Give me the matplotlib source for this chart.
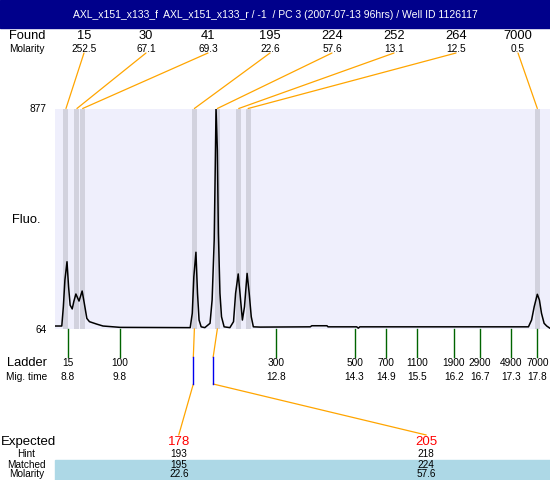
import matplotlib
matplotlib.use("Agg")
import matplotlib.pyplot as plt
from matplotlib.lines import Line2D
from matplotlib.patches import Rectangle, ConnectionPatch
from matplotlib.transforms import blended_transform_factory

plt.rcParams['font.family'] = ['Liberation Sans', 'DejaVu Sans']

title = "AXL_x151_x133_f  AXL_x151_x133_r / -1  / PC 3 (2007-07-13 96hrs) / Well ID 1126117"

# electropherogram: migration time (s) vs fluorescence
trace_time = [8.56, 8.69, 8.72, 8.75, 8.79, 8.82, 8.85, 8.89, 8.92, 8.96,
              9.02, 9.08, 9.12, 9.17, 9.22, 9.36, 9.48, 9.81, 11.15, 11.19,
              11.22, 11.26, 11.29, 11.32, 11.36, 11.43, 11.53, 11.57, 11.61, 11.63,
              11.645, 11.67, 11.69, 11.72, 11.75, 11.80, 11.91, 11.98, 12.02, 12.07,
              12.11, 12.15, 12.19, 12.24, 12.28, 12.32, 12.36, 12.49, 13.45, 13.48,
              13.77, 13.79, 14.34, 14.37, 14.40, 17.63, 17.69, 17.74, 17.80, 17.84,
              17.88, 17.93, 17.98, 18.04]
trace_fluo = [75, 75, 146, 245, 312, 220, 152, 138, 165, 193,
              167, 204, 160, 103, 91, 82, 75, 70, 69, 122,
              257, 347, 196, 97, 72, 69, 85, 171, 392, 662,
              877, 724, 417, 196, 109, 72, 69, 91, 196, 267,
              183, 97, 146, 269, 196, 109, 72, 71, 72, 76,
              76, 72, 72, 67, 72, 72, 97, 146, 192, 171,
              122, 85, 75, 67]

found_size = [15, 30, 41, 195, 224, 252, 264, 7000]
found_molarity = [252.5, 67.1, 69.3, 22.6, 57.6, 13.1, 12.5, 0.5]
found_time = [8.77, 8.98, 9.09, 11.23, 11.67, 12.08, 12.26, 17.80]

ladder_size = [15, 100, 300, 500, 700, 1100, 1900, 2900, 4900, 7000]
ladder_time = [8.8, 9.8, 12.8, 14.3, 14.9, 15.5, 16.2, 16.7, 17.3, 17.8]

expected_size = [178, 205]
hint_size = [193, 218]
matched_size = [195, 224]
matched_molarity = [22.6, 57.6]
matched_time = [11.23, 11.67]
hint_time = [11.21, 11.59]

W, H = 550, 480
fx = lambda px: px / W
fy = lambda py: 1 - py / H

fig = plt.figure(figsize=(W / 100, H / 100), dpi=100)
fig.patch.set_facecolor('white')

# title bar
fig.add_artist(Rectangle((0, fy(28)), 1, 28 / H, transform=fig.transFigure,
                         color='#00008B', zorder=0))
fig.text(0.5, fy(14.5), title, color='white', ha='center', va='center', size=7.5)

# main plot area
ax = fig.add_axes([fx(55), fy(329), fx(495), 220.5 / H])
ax.set_facecolor('#EFEFFC')
for s in ax.spines.values():
    s.set_visible(False)
for t in found_time:
    ax.axvspan(t - 0.048, t + 0.048, color='#D2D2DE', lw=0)
ax.plot(trace_time, trace_fluo, color='black', lw=1.1)
ax.set_xlim(8.56, 18.043)
ax.set_ylim(64, 877)
ax.set_xticks([])
ax.set_yticks([64, 877])
ax.tick_params(axis='y', length=0, pad=6, labelsize=7.3)

trans = blended_transform_factory(ax.transData, fig.transFigure)
orange = '#FFA500'

# found peaks row
fig.text(fx(26.7), fy(36), "Found", ha='center', va='center', size=9.3)
fig.text(fx(26.7), fy(48.5), "Molarity", ha='center', va='center', size=7.3)
for i, (sz, mol, t) in enumerate(zip(found_size, found_molarity, found_time)):
    x = fx(53 + 62 * (i + 0.5))
    fig.text(x, fy(36), str(sz), ha='center', va='center', size=9.3)
    fig.text(x, fy(48.5), f"{mol}", ha='center', va='center', size=7.3)
    fig.add_artist(ConnectionPatch(xyA=(x, fy(53)), coordsA=fig.transFigure,
                                   xyB=(t, 877), coordsB=ax.transData,
                                   color=orange, lw=0.9))

fig.text(fx(26.5), fy(220), "Fluo.", ha='center', va='center', size=9.3)

# ladder
fig.text(fx(27), fy(363), "Ladder", ha='center', va='center', size=9.3)
fig.text(fx(26.5), fy(377), "Mig. time", ha='center', va='center', size=7.3)
for sz, t in zip(ladder_size, ladder_time):
    fig.add_artist(Line2D([t, t], [fy(329), fy(357)], transform=trans,
                          color='#006400', lw=1.0))
    fig.text(t, fy(363), str(sz), transform=trans, ha='center', va='center', size=7.3)
    fig.text(t, fy(377), f"{t}", transform=trans, ha='center', va='center', size=7.3)

# expected / matched table
fig.add_artist(Rectangle((fx(55), 0), 1 - fx(55), 20 / H, transform=fig.transFigure,
                         color='#ADD8E6', zorder=0))
fig.text(fx(1), fy(442), "Expected", ha='left', va='center', size=9.5)
fig.text(fx(26), fy(454), "Hint", ha='center', va='center', size=7.2)
fig.text(fx(26.7), fy(464.5), "Matched", ha='center', va='center', size=7.2)
fig.text(fx(27), fy(474), "Molarity", ha='center', va='center', size=7.2)
for i in range(len(expected_size)):
    x = fx(55 + 247.5 * (i + 0.5))
    fig.text(x, fy(442), str(expected_size[i]), color='#FF0000',
             ha='center', va='center', size=9.5)
    fig.text(x, fy(454), str(hint_size[i]), ha='center', va='center', size=7.2)
    fig.text(x, fy(464.5), str(matched_size[i]), ha='center', va='center', size=7.2)
    fig.text(x, fy(474), f"{matched_molarity[i]}", ha='center', va='center', size=7.2)
    fig.add_artist(Line2D([matched_time[i], hint_time[i]], [fy(329), fy(357)],
                          transform=trans, color=orange, lw=0.9))
    fig.add_artist(Line2D([hint_time[i], hint_time[i]], [fy(357), fy(384)],
                          transform=trans, color='#0000EE', lw=1.0))
    fig.add_artist(ConnectionPatch(xyA=(hint_time[i], fy(384)), coordsA=trans,
                                   xyB=(x, fy(435)), coordsB=fig.transFigure,
                                   color=orange, lw=0.9))

fig.savefig("out.png", dpi=100)
